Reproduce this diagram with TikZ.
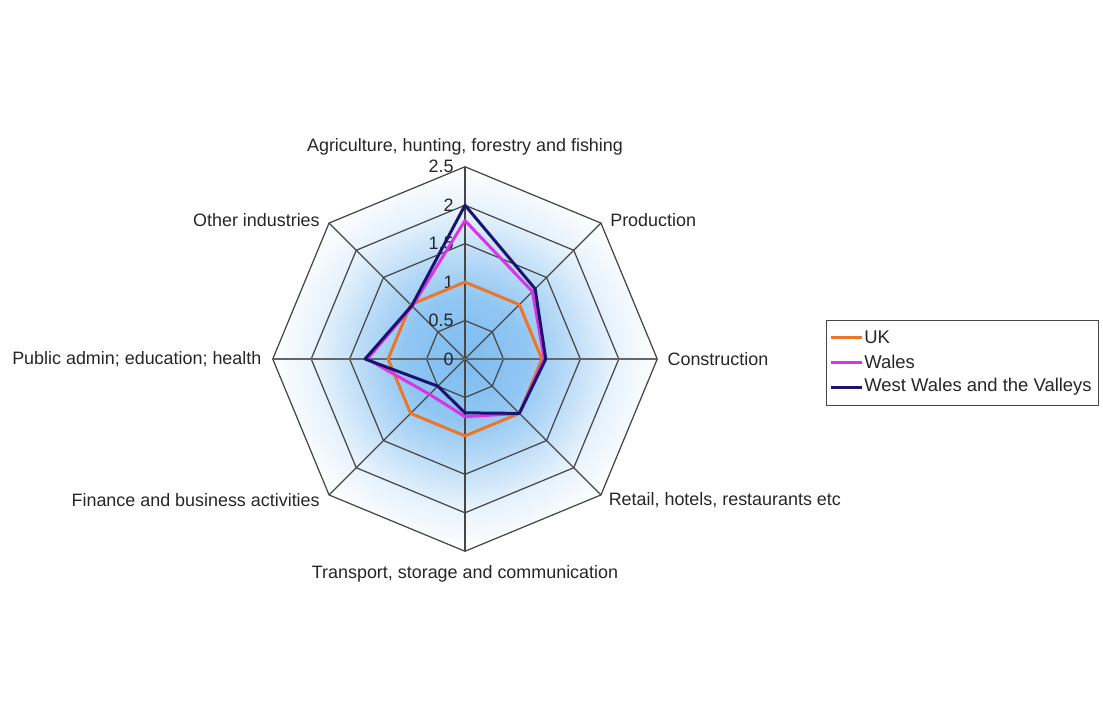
\documentclass[tikz,border=0pt]{standalone}
\usepackage{fontspec}
\setmainfont{Liberation Sans}
\usetikzlibrary{positioning,calc}

\definecolor{ukorange}{RGB}{235,118,40}
\definecolor{walespink}{RGB}{220,50,230}
\definecolor{wwvnavy}{RGB}{25,20,110}
\definecolor{gridgray}{RGB}{70,70,70}
\definecolor{fillblue}{RGB}{125,188,240}
\pgfdeclareradialshading{chartglow}{\pgfpoint{0bp}{0bp}}{color(0bp)=(fillblue); color(8bp)=(fillblue!85!white); color(14bp)=(fillblue!50!white); color(19bp)=(fillblue!20!white); color(25bp)=(white); color(50bp)=(white)}

\begin{document}
\begin{tikzpicture}[every node/.style={font=\fontsize{10.2}{12}\selectfont, text=black!85, inner sep=0pt},
                    gridline/.style={gridgray, line width=0.7pt},
                    series/.style={line width=1.7pt, line join=round}]
    \def\unitr{1.538}
    \useasboundingbox (-9.30,-7.04) rectangle (12.76,7.18);

    % shaded octagon behind the grid
    \fill[shading=chartglow] (90:{2.5*\unitr}) \foreach \a in {45,0,...,-225} {-- (\a:{2.5*\unitr})} -- cycle;

    % octagon rings and spokes
    \foreach \r in {0.5,1,1.5,2,2.5}
        \draw[gridline] (90:{\r*\unitr}) \foreach \a in {45,0,...,-225} {-- (\a:{\r*\unitr})} -- cycle;
    \foreach \a in {90,45,-45,-90,-135,135}
        \draw[gridline] (0,0) -- (\a:{2.5*\unitr});
    \draw[gray!80!black, line width=1pt] (180:{2.5*\unitr}) -- (0:{2.5*\unitr});

    % outer corners, used to place the category names
    \foreach \a/\n in {90/agri,45/prod,0/constr,-45/retail,-90/trans,-135/fin,180/pub,135/other}
        \coordinate (v\n) at (\a:{2.5*\unitr});

    % value ticks on the upper spoke
    \foreach \v [count=\i] in {0,0.5,1,1.5,2,2.5}
        \node[anchor=east] (tick\i) at (-0.22,{\v*\unitr}) {\v};

    % category names
    \node[above=0.23 of vagri] (agri) {Agriculture, hunting, forestry and fishing};
    \node[right=0.18 of vprod, yshift=0.06cm] (prod) {Production};
    \node[right=0.2 of vconstr] (constr) {Construction};
    \node[right=0.15 of vretail, yshift=-0.1cm] (retail) {Retail, hotels, restaurants etc};
    \node[below=0.27 of vtrans] (trans) {Transport, storage and communication};
    \node[left=0.18 of vfin, yshift=-0.1cm] (fin) {Finance and business activities};
    \node[left=0.22 of vpub] (pub) {Public admin; education; health};
    \node[left=0.18 of vother, yshift=0.06cm] (other) {Other industries};

    % the three series
    \draw[series,ukorange] (90:{1*\unitr}) \foreach \a/\v in {45/1,0/1,-45/1,-90/1,-135/1,180/1,135/1} {-- (\a:{\v*\unitr})} -- cycle;
    \draw[series,walespink] (90:{1.8*\unitr}) \foreach \a/\v in {45/1.24,0/1.03,-45/1,-90/0.75,-135/0.65,180/1.27,135/0.97} {-- (\a:{\v*\unitr})} -- cycle;
    \draw[series,wwvnavy] (90:{2*\unitr}) \foreach \a/\v in {45/1.29,0/1.05,-45/1,-90/0.7,-135/0.5,180/1.3,135/0.98} {-- (\a:{\v*\unitr})} -- cycle;

    % legend
    \node[draw=gridgray, line width=0.6pt, minimum width=5.44cm, minimum height=1.7cm, anchor=north west] (legend) at (7.22,0.78) {};
    \foreach \col/\txt [count=\i] in {ukorange/UK,walespink/Wales,wwvnavy/West Wales and the Valleys} {
        \coordinate (key\i) at (7.32,{0.94-0.5*\i});
        \draw[series,\col] (key\i) -- ++(0.62,0) coordinate (keyend\i);
        \node[right=0.04 of keyend\i, font=\fontsize{10.5}{12}\selectfont] (keytext\i) {\txt};
    }
\end{tikzpicture}
\end{document}
